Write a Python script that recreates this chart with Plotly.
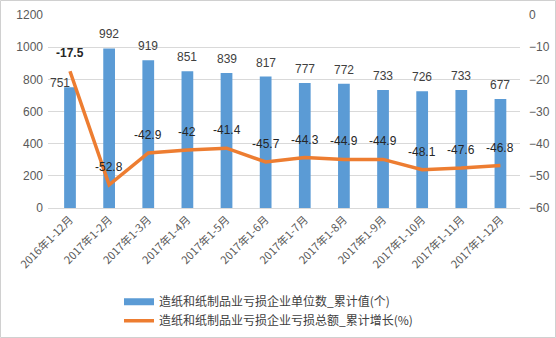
import plotly.graph_objects as go

# Monthly cumulative periods
periods = ["2016年1-12月", "2017年1-2月", "2017年1-3月", "2017年1-4月", "2017年1-5月",
           "2017年1-6月", "2017年1-7月", "2017年1-8月", "2017年1-9月", "2017年1-10月",
           "2017年1-11月", "2017年1-12月"]
# Number of loss-making enterprises (cumulative)
loss_units = [751, 992, 919, 851, 839, 817, 777, 772, 733, 726, 733, 677]
# Cumulative growth of total losses (%)
loss_growth = [-17.5, -52.8, -42.9, -42, -41.4, -45.7, -44.3, -44.9, -44.9, -48.1, -47.6, -46.8]

bar_name = "造纸和纸制品业亏损企业单位数_累计值(个)"
line_name = "造纸和纸制品业亏损企业亏损总额_累计增长(%)"

bar_color = "#5B9BD5"
line_color = "#ED7D31"
num_font = "Liberation Sans, Noto Sans CJK SC, sans-serif"
cjk_font = "Noto Sans CJK SC, sans-serif"

fig = go.Figure()
fig.add_trace(go.Bar(
    x=periods, y=loss_units, name=bar_name, legendgroup="bar", showlegend=False,
    marker=dict(color=bar_color, line=dict(width=0)),
    width=0.3,
))
# Legend entry for the bars drawn as a wide flat swatch
fig.add_trace(go.Scatter(
    x=[None], y=[None], name=bar_name, legendgroup="bar", mode="lines",
    line=dict(color=bar_color, width=7),
))
fig.add_trace(go.Scatter(
    x=periods, y=loss_growth, name=line_name, yaxis="y2",
    mode="lines",
    line=dict(color=line_color, width=3.5),
))

# Value labels: bar counts above each bar, growth rates above the line
annotations = []
for i, (p, v) in enumerate(zip(periods, loss_units)):
    # the first label sits to the left so it clears the steep line segment
    dx, dy = (-10, 4) if i == 0 else (0, 14)
    annotations.append(dict(x=p, y=v, xref="x", yref="y", text=str(v), showarrow=False,
                            xanchor="center", yanchor="middle", xshift=dx, yshift=dy,
                            font=dict(family=num_font, size=12, color="#404040")))
for i, (p, v) in enumerate(zip(periods, loss_growth)):
    label = f"<b>{v:g}</b>" if i == 0 else f"{v:g}"
    annotations.append(dict(x=p, y=v, xref="x", yref="y2", text=label, showarrow=False,
                            xanchor="center", yanchor="middle", yshift=18,
                            font=dict(family=num_font, size=12, color="#262626")))

W, H = 556, 338
ml, mr, mt, mb = 48, 36, 15, 130
pw, ph = W - ml - mr, H - mt - mb

fig.update_layout(
    width=W, height=H,
    margin=dict(l=ml, r=mr, t=mt, b=mb, autoexpand=False),
    paper_bgcolor="white", plot_bgcolor="white",
    font=dict(family=cjk_font, size=11, color="#595959"),
    showlegend=True,
    legend=dict(orientation="v", x=(119 - ml) / pw, xanchor="left", y=-0.41, yanchor="top",
                font=dict(family=cjk_font, size=12, color="#404040"),
                itemwidth=30, tracegroupgap=0, traceorder="normal"),
    xaxis=dict(tickangle=-45, tickfont=dict(family=cjk_font, size=11, color="#595959"),
               showline=True, linecolor="#d9d9d9", ticks="", showgrid=False,
               automargin=False),
    yaxis=dict(range=[0, 1200], dtick=200, gridcolor="#d9d9d9", zeroline=False,
               tickfont=dict(family=num_font, size=12, color="#595959"),
               ticks="", showline=False, automargin=False, ticklabelstandoff=4),
    yaxis2=dict(range=[-60, 0], dtick=10, overlaying="y", side="right", showgrid=False,
                zeroline=False, tickfont=dict(family=num_font, size=12, color="#595959"),
                ticks="", showline=False, automargin=False, ticklabelstandoff=8),
    annotations=annotations,
    shapes=[dict(type="rect", xref="paper", yref="paper",
                 x0=-ml / pw + 0.5 / pw, x1=1 + (mr - 0.5) / pw,
                 y0=-(mb - 0.5) / ph, y1=1 + (mt - 0.5) / ph,
                 line=dict(color="#d0d0d0", width=1))],
)

fig.write_html("out.html")
